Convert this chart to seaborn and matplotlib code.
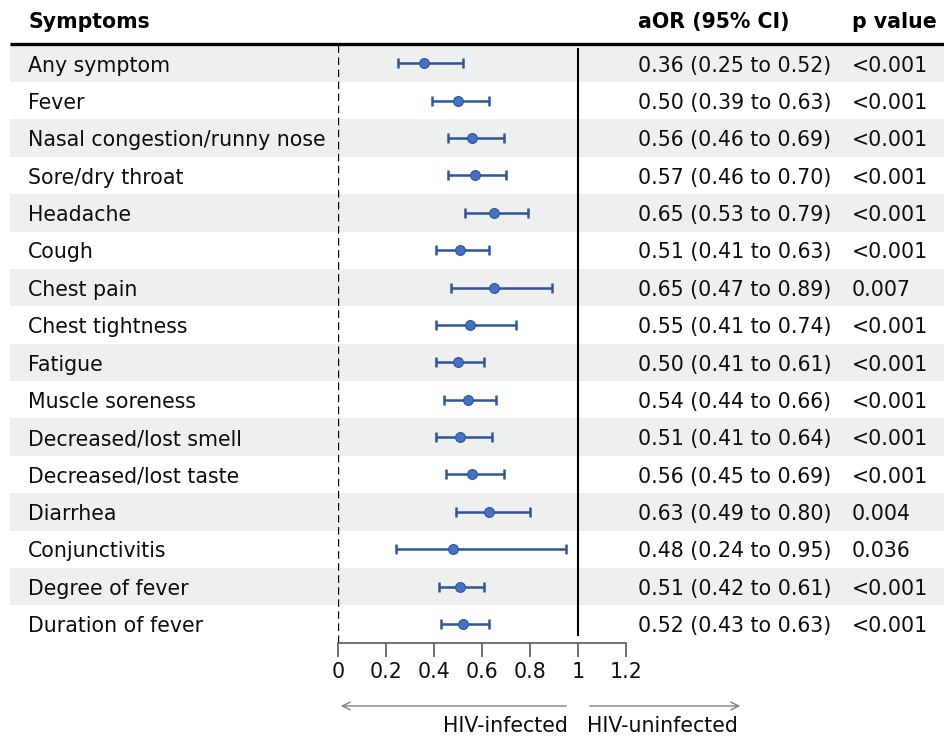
import numpy as np
import pandas as pd
import matplotlib
matplotlib.use("Agg")
import matplotlib.pyplot as plt
import seaborn as sns

# Values
symptoms = ["Any symptom", "Fever", "Nasal congestion/runny nose", "Sore/dry throat",
            "Headache", "Cough", "Chest pain", "Chest tightness", "Fatigue",
            "Muscle soreness", "Decreased/lost smell", "Decreased/lost taste",
            "Diarrhea", "Conjunctivitis", "Degree of fever", "Duration of fever"]
aor = [0.36, 0.50, 0.56, 0.57, 0.65, 0.51, 0.65, 0.55, 0.50, 0.54, 0.51, 0.56, 0.63, 0.48, 0.51, 0.52]
ci_low = [0.25, 0.39, 0.46, 0.46, 0.53, 0.41, 0.47, 0.41, 0.41, 0.44, 0.41, 0.45, 0.49, 0.24, 0.42, 0.43]
ci_high = [0.52, 0.63, 0.69, 0.70, 0.79, 0.63, 0.89, 0.74, 0.61, 0.66, 0.64, 0.69, 0.80, 0.95, 0.61, 0.63]
p_values = ["<0.001", "<0.001", "<0.001", "<0.001", "<0.001", "<0.001", "0.007", "<0.001",
            "<0.001", "<0.001", "<0.001", "<0.001", "0.004", "0.036", "<0.001", "<0.001"]
x_ticks = [0, 0.2, 0.4, 0.6, 0.8, 1, 1.2]
x_tick_labels = ["0", "0.2", "0.4", "0.6", "0.8", "1", "1.2"]

df = pd.DataFrame({"symptom": symptoms, "aor": aor, "lo": ci_low, "hi": ci_high, "p": p_values})
df["row"] = np.arange(len(df))
df["label"] = [f"{a:.2f} ({l:.2f} to {h:.2f})" for a, l, h in zip(df.aor, df.lo, df.hi)]

sns.set_style("white")
plt.rcParams["font.family"] = ["DejaVu Sans"]

W, H = 944, 737
fig = plt.figure(figsize=(W / 100, H / 100), dpi=100)

# background axes: x in pixels, y in row units
row_px0, row_step = 63.3, 37.38
bg = fig.add_axes([0, 0, 1, 1])
bg.set_xlim(0, W)
bg.set_ylim((H - row_px0) / row_step, -row_px0 / row_step)
bg.axis("off")

shade = "#eef0ef"
fs = 14.8
txt = "#0d0d0d"
dy = 0.06  # text sits a touch below the row centre
for i, r in df.iterrows():
    if i % 2 == 0:
        bg.fill_between([10, W], r.row - 0.5, r.row + 0.5, color=shade, lw=0, zorder=0)
    bg.text(28, r.row + dy, r.symptom, fontsize=fs, va="center", ha="left", color=txt)
    bg.text(638, r.row + dy, r.label, fontsize=fs, va="center", ha="left", color=txt)
    bg.text(852, r.row + dy, r.p, fontsize=fs, va="center", ha="left", color=txt)

head_y = (22 - row_px0) / row_step
bg.text(28, head_y, "Symptoms", fontsize=fs, fontweight="bold", va="center", ha="left", color="black")
bg.text(638, head_y, "aOR (95% CI)", fontsize=fs, fontweight="bold", va="center", ha="left", color="black")
bg.text(852, head_y, "p value", fontsize=fs, fontweight="bold", va="center", ha="left", color="black")
bg.plot([10, W], [(44 - row_px0) / row_step] * 2, color="black", lw=2.4, solid_capstyle="butt")

# direction arrows under the axis
arr_y = (706 - row_px0) / row_step
txt_y = (726 - row_px0) / row_step
bg.annotate("", xy=(338, arr_y), xytext=(569, arr_y),
            arrowprops=dict(arrowstyle="->", color="#808080", lw=1, mutation_scale=14))
bg.annotate("", xy=(743, arr_y), xytext=(587, arr_y),
            arrowprops=dict(arrowstyle="->", color="#808080", lw=1, mutation_scale=14))
bg.text(568, txt_y, "HIV-infected", fontsize=fs, ha="right", va="center", color=txt)
bg.text(587, txt_y, "HIV-uninfected", fontsize=fs, ha="left", va="center", color=txt)

# forest axes
left, right, top, bottom = 338, 626, 44, 643
ax = fig.add_axes([left / W, (H - bottom) / H, (right - left) / W, (bottom - top) / H])
ax.patch.set_alpha(0)
ax.errorbar(df.aor, df.row, xerr=[df.aor - df.lo, df.hi - df.aor], fmt="none",
            ecolor="#2f5597", elinewidth=1.8, capsize=3.3, capthick=1.8, zorder=3)
sns.scatterplot(data=df, x="aor", y="row", ax=ax, s=50, color="#4472c4",
                edgecolor="#2f5597", linewidth=0.8, zorder=4, legend=False)
ax.axvline(0, color="black", lw=1.7, ls=(0, (3.2, 1.9)))
ax.vlines(1, (48 - row_px0) / row_step, (636 - row_px0) / row_step, color="black", lw=1.5)

ax.set_xlim(0, 1.2)
ax.set_ylim((bottom - row_px0) / row_step, (top - row_px0) / row_step)
ax.set_xticks(x_ticks)
ax.set_xticklabels(x_tick_labels, fontsize=fs)
ax.set_yticks([])
ax.set_xlabel("")
ax.set_ylabel("")
for s in ["top", "left", "right"]:
    ax.spines[s].set_visible(False)
ax.spines["bottom"].set_color("#595959")
ax.spines["bottom"].set_linewidth(1.2)
ax.tick_params(axis="x", bottom=True, direction="out", length=10, width=1.2,
               color="#595959", pad=4, labelcolor=txt)

fig.savefig("out.png", dpi=100)
